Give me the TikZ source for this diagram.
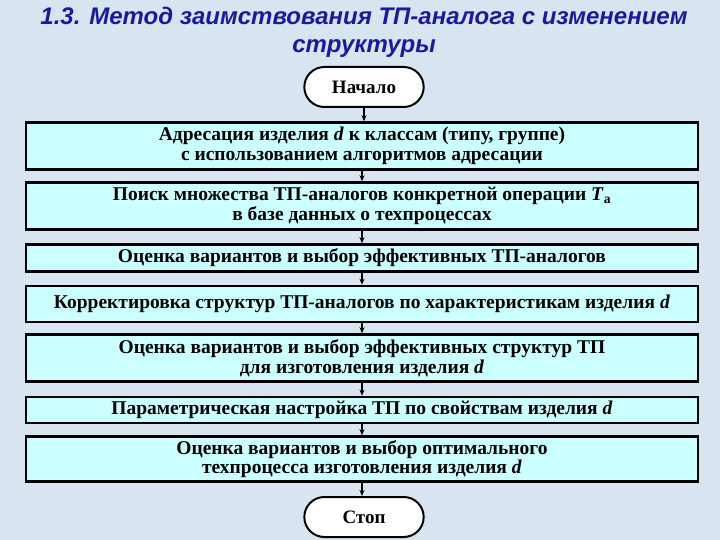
\documentclass[tikz,border=0pt]{standalone}
\usepackage{fontspec}
\setmainfont{Liberation Serif}
\newfontfamily\titlefont{Liberation Sans}
\usetikzlibrary{arrows.meta,shapes.misc}
\definecolor{bg}{HTML}{D8E4F0}
\definecolor{boxc}{HTML}{CCFFFF}
\definecolor{titc}{HTML}{1A1A9A}
\begin{document}
\begin{tikzpicture}[x=1pt,y=-1pt,
  blk/.style={draw=black,line width=2.5pt,fill=boxc,minimum width=672pt,align=center,font=\bfseries\fontsize{19.5}{19.5}\selectfont,inner sep=1pt},
  term/.style={draw=black,line width=2pt,fill=white,rounded rectangle,minimum width=126pt,minimum height=40pt,font=\bfseries\fontsize{19}{19}\selectfont},
  arr/.style={-{Stealth[length=6pt,width=5pt]},line width=1.2pt}]
\fill[bg] (0,0) rectangle (720,540);
\node[font=\titlefont\bfseries\itshape\fontsize{24}{28}\selectfont,text=titc,align=center] (t) at (364,32) {1.3. Метод заимствования ТП-аналога с изменением\\структуры};
\node[term] (s) at (364,87) {Начало};
\node[blk,minimum height=47pt] (b1) at (362,146) {Адресация изделия \textit{d} к классам (типу, группе)\\с использованием алгоритмов адресации};
\node[blk,minimum height=47pt] (b2) at (362,206) {Поиск множества ТП-аналогов конкретной операции \textit{T}\textsubscript{а}\\в базе данных о техпроцессах};
\node[blk,minimum height=27pt] (b3) at (362,258) {Оценка вариантов и выбор эффективных ТП-аналогов};
\node[blk,minimum height=36pt] (b4) at (362,304) {Корректировка структур ТП-аналогов по характеристикам изделия \textit{d}};
\node[blk,minimum height=47pt] (b5) at (362,358) {Оценка вариантов и выбор эффективных структур ТП\\для изготовления изделия \textit{d}};
\node[blk,minimum height=26pt] (b6) at (362,410) {Параметрическая настройка ТП по свойствам изделия \textit{d}};
\node[blk,minimum height=45pt] (b7) at (362,459) {Оценка вариантов и выбор оптимального\\техпроцесса изготовления изделия \textit{d}};
\node[term] (e) at (364,517) {Стоп};
\foreach \a/\b in {s/b1,b1/b2,b2/b3,b3/b4,b4/b5,b5/b6,b6/b7,b7/e}
  \draw[arr] (\a.south) -- (\a.south |- \b.north);
\end{tikzpicture}
\end{document}
